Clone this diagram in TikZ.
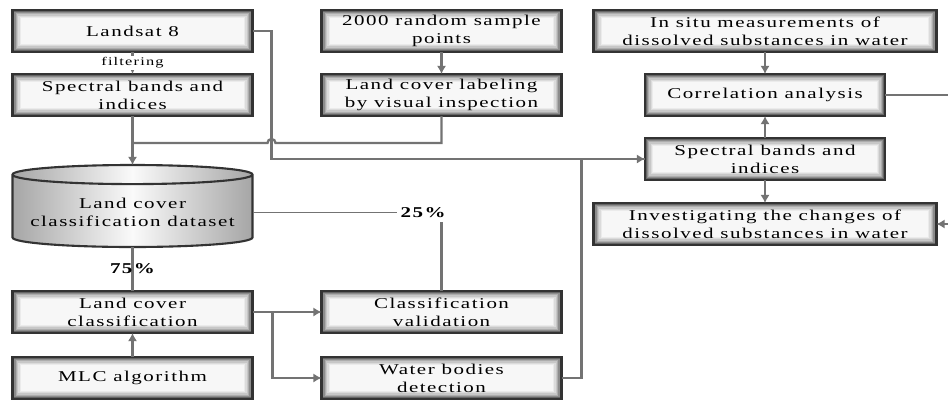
\documentclass[tikz,border=0pt]{standalone}
\usepackage{fontspec}
\setmainfont{Liberation Serif}[FakeStretch=1.4,LetterSpace=10]
\usetikzlibrary{positioning}
\usetikzlibrary{arrows.meta}
\usetikzlibrary{shapes.geometric}

\tikzset{
	box/.style={minimum width=7.2cm,minimum height=1.26cm,outer sep=0pt,align=center,draw=black!80,line width=1.8pt,fill=black!3,
		path picture={\foreach \k/\gr in {1/60,2/45,3/32,4/22,5/14,6/8}{\draw[black!\gr,line width=1.2pt] ([shift={(\k*1.1pt,-\k*1.1pt)}]path picture bounding box.north west) rectangle ([shift={(-\k*1.1pt,\k*1.1pt)}]path picture bounding box.south east);}}},
	widebox/.style={box,minimum width=10.29cm},
	link/.style={draw=black!55,line width=2pt},
	thinlink/.style={draw=black!55,line width=0.9pt},
	pct/.style={font=\fontsize{12.8}{15.4}\selectfont\bfseries}
}

\begin{document}
\begin{tikzpicture}[>={Latex[length=7pt,width=8pt]},font=\fontsize{12.8}{15.4}\selectfont]
	\useasboundingbox (0,0) rectangle (28.44,-12.06);

	\node [box] at (3.975,-0.93) (landsat) {Landsat 8};
	\node [box,below=0.66cm of landsat] (specL) {Spectral bands and\\indices};
	\node [cylinder,shape border rotate=90,aspect=0.09,minimum width=7.2cm,minimum height=2.46cm,outer sep=0pt,draw=black!80,line width=1.8pt,left color=black!35,right color=black!35,middle color=black!2,align=center,below=1.47cm of specL] (dataset) {Land cover\\classification dataset};
	\node [box,below=1.32cm of dataset] (lcc) {Land cover\\classification};
	\node [box,below=0.72cm of lcc] (mlc) {MLC algorithm};

	\node [box,right=2.07cm of landsat] (sample) {2000 random sample\\points};
	\node [box,below=0.66cm of sample] (labeling) {Land cover labeling\\by visual inspection};
	\node [box,right=2.07cm of lcc] (valid) {Classification\\validation};
	\node [box,right=2.07cm of mlc] (water) {Water bodies\\detection};

	\node [widebox,right=0.96cm of sample] (insitu) {In situ measurements of\\dissolved substances in water};
	\node [box,below=0.66cm of insitu] (corr) {Correlation analysis};
	\node [box,below=0.66cm of corr] (specR) {Spectral bands and\\indices};
	\node [widebox,below=0.69cm of specR] (invest) {Investigating the changes of\\dissolved substances in water};

	\coordinate [right=0.57cm of landsat.east] (busL);
	\coordinate [below=0.81cm of specL.south] (mergeL);
	\coordinate [right=0.6cm of lcc.east] (split);
	\coordinate [right=0.6cm of water.east] (busR);
	\path (28.44,0) coordinate (edgeX);
	\coordinate (outT) at (corr.east -| edgeX);
	\coordinate (outB) at (invest.east -| edgeX);
	\node [pct,xshift=-0.55cm] at (dataset.east -| valid.north) (pct25) {25\%};

	\draw[link,->] (landsat) -- node[fill=white,inner sep=1pt,font=\fontsize{10}{12}\selectfont] {filtering} (specL);
	\draw[link,->] (specL.south) -- (dataset.north);
	\draw[link] (labeling.south) |- ([xshift=0.12cm]busL |- mergeL) arc[start angle=0,end angle=180,radius=0.12cm] -- (mergeL);
	\draw[link,->] (landsat.east) -- (busL) |- (specR.west);
	\draw[link] (water.east) -- (busR) |- (specR.west);

	\draw[link] (dataset.south) -- node[pct] {75\%} (lcc.north);
	\draw[thinlink] (dataset.east) -- (pct25.west);
	\draw[link] (valid.north) -- (valid.north |- pct25.south);

	\draw[link,->] (lcc.east) -- (valid.west);
	\draw[link,->] (split) |- (water.west);
	\draw[link,->] (mlc) -- (lcc);
	\draw[link,->] (sample) -- (labeling);

	\draw[link,->] (insitu) -- (corr);
	\draw[link,->] (specR) -- (corr);
	\draw[link,->] (specR) -- (invest);
	\draw[thinlink] (corr.east) -- (outT);
	\draw[link,->] (outB) -- (invest.east);
\end{tikzpicture}
\end{document}
